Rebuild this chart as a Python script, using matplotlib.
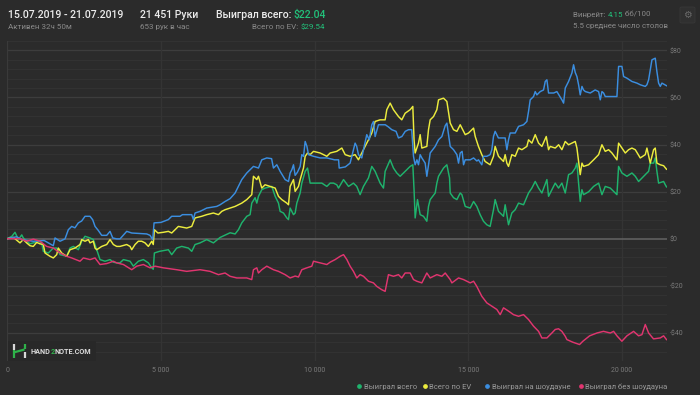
import matplotlib
matplotlib.use("Agg")
import matplotlib.pyplot as plt
from matplotlib.lines import Line2D
from matplotlib.patches import Rectangle, FancyBboxPatch
import numpy as np

plt.rcParams['font.family'] = ['Roboto', 'DejaVu Sans']

# ---------------- data ----------------
total_hands = [0, 150, 251, 360, 470, 520, 630, 739, 846, 1010, 1118, 1172, 1335, 1497, 1607, 1715, 1933, 2041, 2150,
               2312, 2421, 2529, 2692, 2800, 2910, 3017, 3180, 3343, 3451, 3560, 3668, 3778, 3995, 4102, 4265, 4428,
               4590, 4700, 4750, 4786, 4950, 5241, 5350, 5512, 5676, 5893, 6002, 6110, 6273, 6490, 6707, 6924, 7087,
               7250, 7413, 7521, 7630, 7793, 7901, 7955, 8064, 8119, 8173, 8281, 8389, 8607, 8716, 8824, 8878, 8987,
               9096, 9150, 9204, 9313, 9367, 9421, 9530, 9584, 9693, 9770, 9855, 10018, 10235, 10398, 10505, 10615,
               10722, 10778, 10941, 11104, 11264, 11372, 11481, 11590, 11752, 11861, 11969, 12132, 12241, 12295,
               12458, 12566, 12675, 12783, 12946, 13109, 13196, 13236, 13272, 13348, 13435, 13543, 13652, 13706,
               13761, 13924, 13978, 14032, 14195, 14304, 14391, 14413, 14521, 14630, 14738, 14792, 14901, 15064,
               15173, 15278, 15387, 15495, 15604, 15712, 15821, 15875, 15984, 16147, 16201, 16310, 16418, 16527,
               16636, 16799, 16962, 17070, 17179, 17288, 17396, 17559, 17613, 17776, 17830, 17938, 18047, 18156,
               18264, 18373, 18482, 18536, 18590, 18644, 18698, 18752, 18915, 19079, 19242, 19350, 19458, 19621,
               19784, 19838, 19892, 20000, 20163, 20326, 20435, 20543, 20706, 20814, 20869, 20923, 21031, 21085,
               21139, 21194, 21357, 21411, 21451]
total_won = [0, 1.0, 2.7, -0.4, 1.6, 0.3, -1.1, -2.2, -1.8, -1.1, -1.8, -5.4, -6.1, -4.0, -4.0, -6.8, -7.5, -4.0, -3.3,
             -4.7, -1.1, 1.0, 0.3, -0.4, -4.7, -8.9, -9.6, -8.9, -10.0, -10.3, -10.3, -8.9, -9.6, -11.7, -9.6, -8.9,
             -10.3, -12.4, -13.0, -6.1, -5.4, -4.7, -6.8, -4.0, -3.3, -4.0, -5.4, -2.5, -1.8, -0.4, -1.8, 0.5, 1.5,
             2.5, 2.0, 3.8, 6.7, 9.5, 10.2, 15.1, 17.4, 15.1, 18.0, 20.8, 21.5, 22.2, 18.0, 15.1, 11.6, 10.9,
             8.8, 8.1, 13.0, 10.2, 10.9, 15.1, 19.4, 23.6, 28.6, 30.0, 23.6, 23.6, 23.6, 22.2, 23.6, 23.6,
             22.9, 21.5, 25.1, 22.2, 23.6, 22.2, 18.7, 22.2, 25.8, 30.7, 28.6, 23.6, 21.5, 28.6,
             33.5, 30.0, 27.9, 26.5, 28.6, 30.7, 31.4, 20.8, 8.8, 16.6, 10.2, 9.5, 7.4, 13.7,
             16.6, 19.4, 23.6, 26.5, 30.0, 31.4, 25.8, 19.4, 17.4, 16.6, 19.4, 18.7, 13.7, 13.0,
             15.8, 13.7, 10.2, 7.4, 5.9, 5.2, 12.3, 16.6, 11.6, 9.5, 14.4, 5.9, 10.9, 12.3,
             15.1, 14.4, 19.4, 21.5, 24.3, 21.5, 19.4, 25.1, 18.0, 22.2, 23.6, 21.5, 23.6, 19.4,
             27.2, 27.9, 30.0, 32.1, 23.6, 15.8, 20.8, 18.7, 19.9, 22.2, 23.6, 18.7, 22.2, 21.5,
             19.4, 18.7, 30.7, 27.9, 26.5, 27.9, 26.5, 24.3, 26.5, 27.9, 28.6, 32.1, 32.1, 34.3,
             28.6, 23.6, 24.3, 22.9, 22.0]

ev_hands = [0, 200, 413, 520, 630, 739, 846, 955, 1063, 1172, 1227, 1390, 1497, 1607, 1660, 1770, 1933, 2041, 2203,
            2366, 2421, 2529, 2638, 2692, 2800, 2855, 2910, 3072, 3235, 3343, 3451, 3560, 3668, 3886, 3995, 4049,
            4157, 4265, 4374, 4482, 4590, 4700, 4750, 4786, 4900, 5078, 5241, 5350, 5458, 5567, 5838, 6002, 6110,
            6327, 6490, 6707, 6870, 6979, 7087, 7250, 7413, 7630, 7793, 7955, 8010, 8119, 8173, 8281, 8389, 8552,
            8716, 8824, 8932, 9096, 9150, 9204, 9313, 9367, 9475, 9530, 9638, 9693, 9770, 9855, 9964, 10181,
            10398, 10505, 10720, 10886, 10995, 11155, 11318, 11427, 11535, 11644, 11752, 11861, 11969, 12132,
            12295, 12349, 12458, 12566, 12729, 12837, 12946, 13109, 13196, 13236, 13272, 13380, 13435, 13489,
            13652, 13706, 13761, 13870, 13978, 14032, 14195, 14304, 14413, 14521, 14630, 14738, 14792, 14901,
            15010, 15173, 15227, 15332, 15441, 15549, 15712, 15821, 15875, 15984, 16147, 16201, 16256, 16310,
            16418, 16527, 16636, 16745, 16907, 16962, 17070, 17179, 17288, 17396, 17538, 17613, 17667, 17830,
            17940, 18047, 18156, 18264, 18373, 18482, 18536, 18590, 18644, 18700, 18752, 18915, 19079, 19242,
            19350, 19458, 19567, 19676, 19838, 19892, 20000, 20110, 20218, 20326, 20435, 20597, 20760, 20814,
            20923, 21031, 21085, 21139, 21248, 21357, 21451]
ev_won = [0, 0.5, -1.8, -0.4, -1.8, -3.0, -3.3, -1.6, -2.2, -2.5, -6.1, -7.5, -8.2, -6.8, -4.0, -6.1, -7.5, -4.7, -4.0,
          -2.5, -0.4, -1.1, -0.4, -1.8, -1.1, -4.0, -4.7, -3.3, -2.5, -0.4, -2.5, -3.3, -3.3, -2.5, -3.3, -4.7,
          -2.5, -1.1, -1.1, -1.8, -3.3, -1.1, -2.5, 3.8, 2.4, 2.7, 3.1, 2.4, 3.8, 5.2, 4.5, 5.2, 8.8,
          9.5, 10.2, 10.9, 10.2, 11.6, 12.3, 13.0, 13.7, 15.1, 16.6, 18.7, 26.5, 25.1, 26.5, 21.5, 22.9, 22.2,
          21.5, 18.0, 16.6, 15.1, 14.4, 22.2, 25.1, 20.1, 22.2, 25.1, 30.0, 35.0, 36.4, 35.7, 37.1, 36.4,
          35.0, 36.4, 37.1, 38.5, 35.7, 35.0, 35.7, 33.5, 36.4, 39.2, 42.0, 44.9, 49.8, 50.5,
          50.5, 54.8, 57.6, 54.8, 51.9, 50.5, 53.3, 54.8, 56.2, 42.0, 36.4, 40.6, 44.2, 38.5,
          39.2, 46.3, 50.5, 51.9, 54.8, 59.0, 59.7, 58.3, 49.1, 46.3, 45.6, 48.4, 47.0, 44.2,
          44.9, 47.0, 43.4, 39.2, 35.7, 32.8, 31.4, 35.0, 39.2, 35.0, 32.8, 35.7, 32.1, 30.7,
          35.7, 35.0, 38.5, 37.8, 39.2, 42.0, 40.6, 44.2, 40.6, 39.2, 43.4, 37.8, 39.2, 38.5,
          39.9, 37.8, 41.3, 39.9, 40.6, 41.3, 38.5, 32.8, 27.2, 32.1, 30.7, 31.4, 33.5, 35.7,
          39.9, 37.1, 37.8, 36.4, 33.5, 40.6, 38.5, 36.4, 37.8, 38.5, 37.8, 34.3, 35.7, 38.5,
          32.1, 37.8, 38.5, 32.1, 31.4, 31.0, 29.5]

sd_hands = [0, 300, 500, 846, 1200, 1497, 1553, 1715, 1878, 1986, 2095, 2200, 2312, 2420, 2529, 2692, 2780, 2855,
            2960, 3072, 3235, 3343, 3430, 3560, 3668, 3886, 4049, 4300, 4537, 4645, 4732, 4776, 5000, 5241, 5350,
            5621, 5700, 6002, 6055, 6110, 6273, 6490, 6816, 6924, 7087, 7250, 7413, 7521, 7630, 7793, 8010, 8173,
            8281, 8444, 8600, 8661, 8770, 8878, 9041, 9150, 9204, 9260, 9313, 9367, 9440, 9530, 9584, 9640, 9693,
            9750, 9801, 9964, 10181, 10400, 10650, 10780, 10800, 11000, 11155, 11318, 11370, 11427, 11535, 11590,
            11698, 11780, 11861, 11915, 11969, 12078, 12300, 12400, 12512, 12650, 12729, 12840, 12950, 13055,
            13160, 13218, 13272, 13330, 13380, 13435, 13490, 13598, 13652, 13700, 13761, 13924, 14032, 14141,
            14250, 14304, 14360, 14413, 14521, 14630, 14684, 14738, 14800, 14847, 14900, 15064, 15173, 15280,
            15332, 15441, 15495, 15604, 15712, 15767, 15821, 15875, 15980, 16201, 16256, 16310, 16364, 16527,
            16636, 16799, 16907, 16962, 17016, 17125, 17179, 17233, 17342, 17450, 17505, 17559, 17613, 17780,
            17884, 18047, 18102, 18156, 18210, 18264, 18373, 18427, 18482, 18536, 18590, 18644, 18700, 18750,
            18810, 18970, 19130, 19242, 19296, 19350, 19404, 19458, 19676, 19838, 19892, 20000, 20055, 20163,
            20326, 20489, 20597, 20760, 20814, 20869, 20923, 20977, 21085, 21139, 21194, 21248, 21302, 21451]
sd_won = [0, 0.8, -0.5, -1.1, -0.8, -3.0, 0.3, -1.1, -0.1, 3.8, 5.2, 4.6, 6.7, 7.5, 9.5, 9.5, 8.0, 5.2,
          3.5, 1.4, 1.4, 3.1, 0.3, -0.1, -0.1, 3.1, 2.4, 2.2, 2.0, 1.4, -0.4, 6.7, 6.9, 8.1, 9.5,
          9.5, 10.2, 10.2, 8.1, 10.9, 11.6, 13.0, 13.7, 14.4, 15.8, 17.0, 19.4, 22.2, 25.1, 27.9, 30.7, 30.0,
          33.5, 34.3, 34.0, 30.0, 31.4, 28.6, 25.1, 24.3, 27.9, 29.3, 31.4, 26.9, 28.2, 30.7, 35.7, 35.0, 41.3,
          39.2, 35.7, 35.0, 34.3, 34.3, 33.5, 33.5, 30.0, 30.5, 32.1, 40.6, 39.2, 35.7, 34.3, 37.8,
          44.2, 42.0, 48.4, 49.8, 43.4, 48.4, 48.4, 47.5, 46.3, 45.6, 42.8, 43.4, 45.6, 46.3,
          46.3, 35.0, 31.4, 33.5, 31.4, 35.7, 34.3, 32.1, 26.5, 30.7, 36.4, 39.2, 42.0, 43.4,
          48.0, 49.1, 44.0, 39.2, 37.8, 35.7, 32.1, 36.4, 37.1, 31.4, 33.5, 33.5, 34.3, 33.0,
          33.5, 31.4, 35.0, 35.0, 35.7, 37.8, 43.4, 45.6, 42.8, 42.8, 37.8, 42.0, 44.9, 44.9,
          47.7, 48.4, 49.8, 54.1, 59.0, 60.4, 62.5, 61.1, 62.5, 63.2, 66.8, 67.5, 61.9, 61.9,
          62.5, 59.0, 57.6, 64.0, 65.4, 66.8, 70.4, 73.9, 70.6, 68.9, 65.4, 61.1, 64.7, 63.2,
          62.5, 61.9, 63.2, 62.5, 59.0, 62.5, 61.9, 60.4, 60.4, 60.4, 73.2, 73.2, 68.9, 68.2,
          66.8, 66.1, 65.4, 64.7, 65.4, 67.5, 71.8, 76.0, 76.7, 71.0, 66.1, 64.7, 66.1, 65.0]

nsd_hands = [0, 410, 630, 846, 1063, 1281, 1497, 1715, 1933, 2095, 2366, 2475, 2692, 2855, 3017, 3235, 3451, 3560,
             3778, 4049, 4211, 4428, 4645, 4810, 5078, 5512, 5838, 6273, 6598, 6870, 7087, 7250, 7467, 7793, 7955,
             8010, 8119, 8173, 8281, 8444, 8661, 8824, 9041, 9204, 9367, 9475, 9584, 9747, 9910, 9964, 10181,
             10398, 10505, 10668, 10832, 10941, 11050, 11155, 11264, 11372, 11481, 11590, 11752, 11915, 12024,
             12186, 12295, 12403, 12566, 12729, 12837, 12946, 13109, 13218, 13326, 13489, 13652, 13761, 13978,
             14141, 14250, 14413, 14467, 14684, 14847, 15064, 15173, 15278, 15441, 15604, 15767, 15930, 16039,
             16147, 16310, 16473, 16636, 16799, 16962, 17125, 17288, 17396, 17559, 17721, 17830, 17938, 18047,
             18156, 18210, 18400, 18622, 18730, 18950, 19187, 19400, 19621, 19730, 19838, 19999, 20163, 20380,
             20543, 20652, 20760, 20869, 21028, 21248, 21357, 21451]
nsd_won = [0, 0.0, -1.1, -0.2, -1.1, -3.3, -4.0, -6.1, -7.5, -8.2, -9.6, -8.2, -8.9, -8.2, -11.0, -10.6, -9.6, -10.3,
           -11.0, -13.2, -11.7, -11.0, -12.4, -11.7, -12.4, -13.2, -13.9, -13.2, -13.9, -15.3, -14.6, -16.0, -16.7,
           -16.7, -17.4, -13.2, -12.4, -14.6, -13.2, -11.7, -13.2, -13.9, -15.3, -16.7, -15.9, -16.3, -13.2, -12.4,
           -11.7, -9.6, -10.3, -11.0, -10.0, -8.9, -7.5, -6.8, -8.9, -11.7, -13.9, -16.7, -15.3, -16.0, -18.1,
           -18.8, -20.3, -21.7, -22.4, -15.3, -16.0, -15.3, -16.7, -14.6, -14.6, -17.4, -18.1, -18.8, -14.6,
           -16.7, -15.3, -16.0, -14.6, -17.4, -18.8, -16.7, -17.4, -18.8, -18.1, -20.3, -24.5, -27.3, -28.7,
           -30.1, -32.3, -29.4, -30.8, -32.3, -33.0, -32.3, -34.4, -37.2, -39.4, -42.2, -42.2, -40.1, -38.6,
           -38.3, -39.4, -41.5, -42.9, -44.0, -45.0, -43.6, -41.3, -40.1, -39.4, -40.1, -39.4, -41.3, -43.6,
           -41.3, -39.4, -41.3, -40.8, -36.5, -40.1, -42.6, -42.2, -41.3, -42.9]

series_names = ["Выиграл всего", "Всего по EV", "Выиграл на шоудауне", "Выиграл без шоудауна"]
series_colors = ["#1fb36d", "#ecec3e", "#3b8ee0", "#e0356f"]

x_ticks = [0, 5000, 10000, 15000, 20000]
x_tick_labels = ["0", "5 000", "10 000", "15 000", "20 000"]
y_ticks = [-40, -20, 0, 20, 40, 60, 80]
y_tick_labels = ["-$40", "-$20", "$0", "$20", "$40", "$60", "$80"]

# ---------------- figure ----------------
W, H = 700, 395
BG = "#2b2b2b"
fig = plt.figure(figsize=(W / 100, H / 100), dpi=100, facecolor=BG)

def fx(px):
    return px / W

def fy(py):
    return 1 - py / H

ax_l, ax_r, ax_t, ax_b = 7.3, 666.5, 41.0, 361.0
ax = fig.add_axes([fx(ax_l), fy(ax_b), fx(ax_r - ax_l), (ax_b - ax_t) / H])
ax.set_facecolor(BG)
ax.set_xlim(0, 21451)
ax.set_ylim(-52, 84)
for s in ax.spines.values():
    s.set_visible(False)

# grid
for v in np.arange(-52, 85, 4):
    if v == 0:
        continue
    col = "#3d3d3d" if v % 20 == 0 else "#323232"
    ax.axhline(v, color=col, lw=0.9, zorder=0)
ax.axhline(0, color="#646464", lw=1.1, zorder=1)
for xv in x_ticks:
    ax.axvline(xv, color="#343434" if xv else "#3a3a3a", lw=0.9, zorder=0)

ax.set_xticks(x_ticks)
ax.set_xticklabels(x_tick_labels)
ax.set_yticks(y_ticks)
ax.set_yticklabels(y_tick_labels)
ax.yaxis.tick_right()
ax.tick_params(axis='both', length=0, labelsize=5, labelcolor="#7a7a7a")
ax.tick_params(axis='y', pad=2.2)
ax.tick_params(axis='x', pad=4.0)

# lines
all_x = [total_hands, ev_hands, sd_hands, nsd_hands]
all_y = [total_won, ev_won, sd_won, nsd_won]
for i, (xs, ys) in enumerate(zip(all_x, all_y)):
    ax.plot(xs, ys, color=series_colors[i], lw=1.05, zorder=3 + i, solid_joinstyle='round')

# logo box
fig.patches.append(Rectangle((fx(8), fy(361)), fx(88), (361 - 341) / H, transform=fig.transFigure,
                             facecolor="#282828", edgecolor="none", zorder=2))

def line_px(x0, y0, x1, y1, color, lw):
    fig.add_artist(Line2D([fx(x0), fx(x1)], [fy(y0), fy(y1)], color=color, lw=lw,
                          solid_capstyle='butt', zorder=5))

# H icon
line_px(13.5, 344, 13.5, 349.5, "#d8d8d8", 1.6)
line_px(13.5, 350, 13.5, 358, "#2fb24a", 1.6)
line_px(13.5, 352.5, 24.5, 349.5, "#2fb24a", 1.6)
line_px(24.5, 344, 24.5, 349, "#2fb24a", 1.6)
line_px(24.5, 352, 24.5, 358, "#d8d8d8", 1.6)

renderer = fig.canvas.get_renderer()

def rich(x, y, parts, size, weight='normal', ha='left'):
    """parts: list of (text, color). x,y in pixels; y is baseline."""
    arts = []
    widths = []
    for txt, col in parts:
        t = fig.text(0, 0, txt, color=col, fontsize=size, fontweight=weight, va='baseline', ha='left')
        widths.append(t.get_window_extent(renderer).width)
        arts.append(t)
    total = sum(widths)
    cx = x - total if ha == 'right' else x
    for t, w in zip(arts, widths):
        t.set_position((fx(cx), fy(y)))
        cx += w
    return arts

WHITE = "#ececec"
GRAY = "#8a8a8a"
GREEN = "#22c07a"

rich(7.5, 17.6, [("15.07.2019 - 21.07.2019", WHITE)], 7.6, weight='medium')
rich(7.5, 29.0, [("Активен 32ч 50м", GRAY)], 5.8)
rich(140.2, 17.6, [("21 451 Руки", WHITE)], 7.6, weight='medium')
rich(140.2, 29.0, [("653 рук в час", GRAY)], 5.8)
rich(216.0, 17.6, [("Выиграл всего: ", WHITE), ("$22.04", GREEN)], 7.6, weight='medium')
rich(325.0, 29.0, [("Всего по EV: ", GRAY), ("$29.54", GREEN)], 5.8, ha='right')
rich(573.3, 16.8, [("Винрейт: ", GRAY), ("4.15", GREEN), (" бб/100", GRAY)], 5.7)
rich(573.3, 27.8, [("5.5 среднее число столов", GRAY)], 5.7)

# settings icon box
fig.patches.append(FancyBboxPatch((fx(680), fy(23)), fx(15), 16 / H,
                                  boxstyle="round,pad=0,rounding_size=0.003", transform=fig.transFigure,
                                  facecolor="#303030", edgecolor="#383838", lw=0.6))
fig.text(fx(687.5), fy(15.2), "⚙", color="#6a6a6a", fontsize=7, ha='center', va='center',
         family=['DejaVu Sans'])

# logo text
rich(30.7, 354.0, [("HAND", "#dcdcdc"), ("2", "#2fb24a"), ("NOTE.COM", "#dcdcdc")], 5.2, weight='bold')

# legend
leg_x = [359.3, 424.5, 487.0, 580.7]
for i, name in enumerate(series_names):
    fig.add_artist(Line2D([fx(leg_x[i])], [fy(386.2)], marker='o', markersize=2.4, color=series_colors[i],
                          linestyle='none'))
    rich(leg_x[i] + 4.7, 388.9, [(name, "#9a9a9a")], 5.5)

fig.savefig("out.png", dpi=100, facecolor=BG)
